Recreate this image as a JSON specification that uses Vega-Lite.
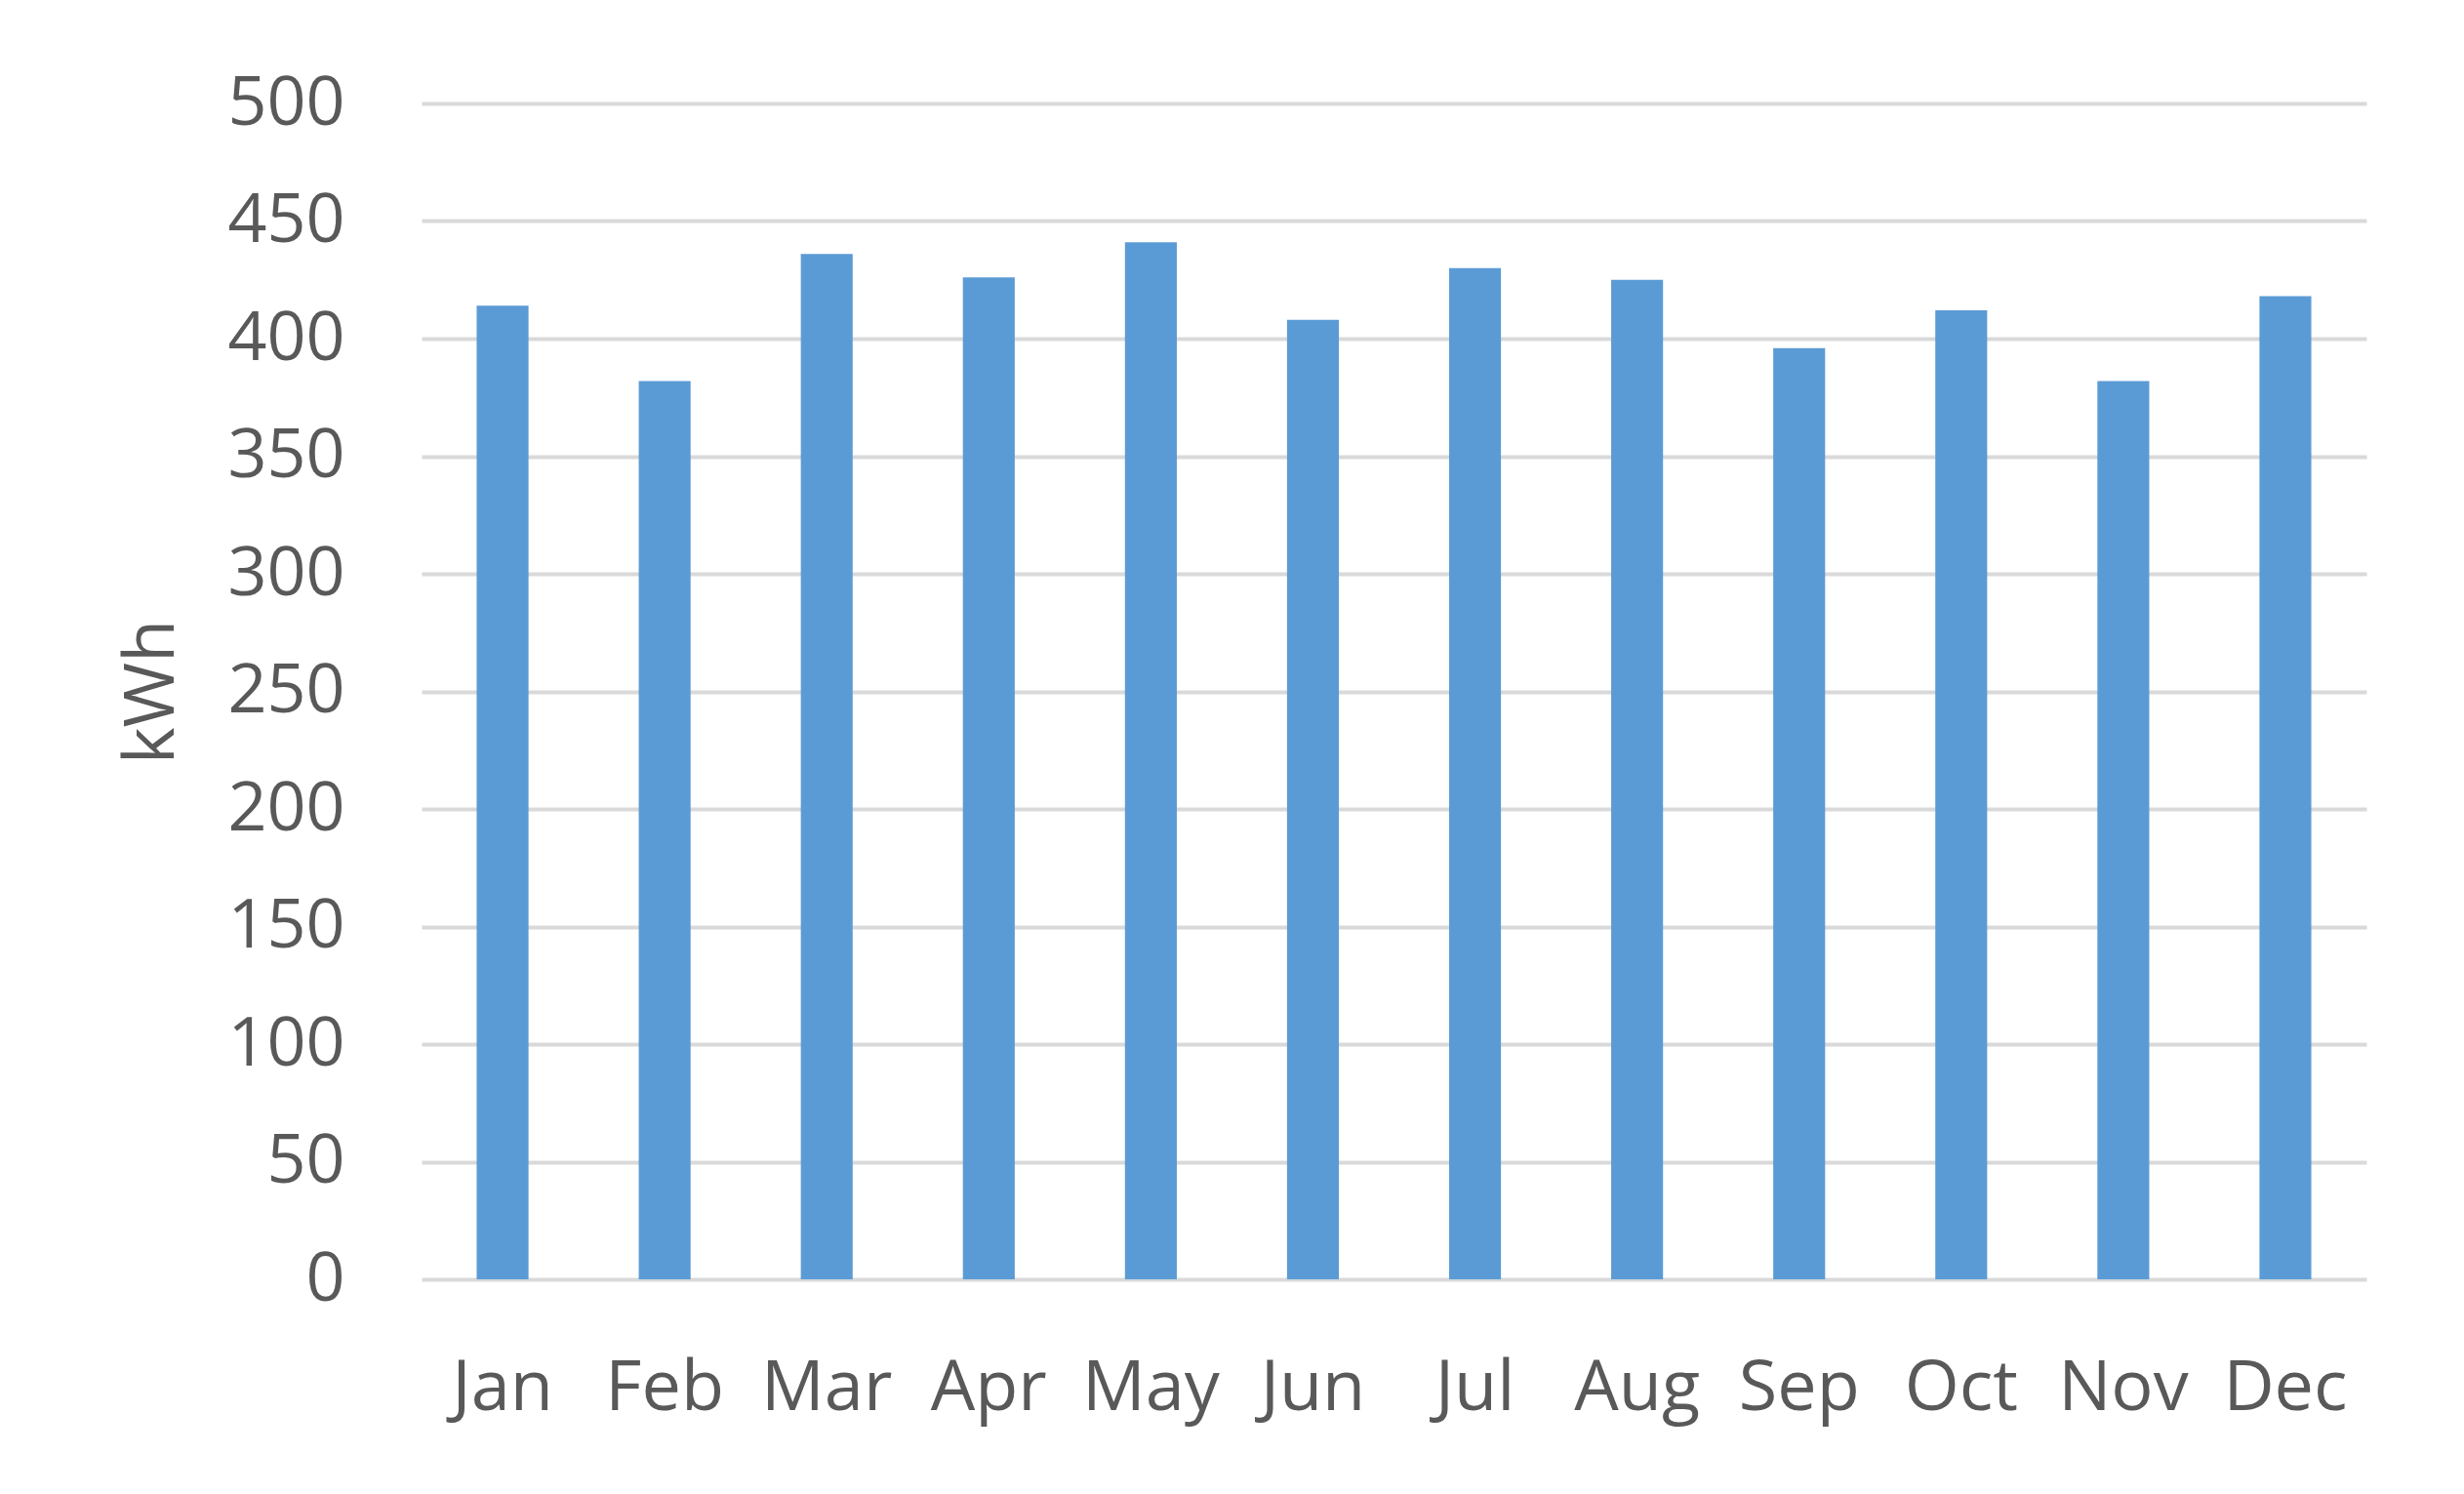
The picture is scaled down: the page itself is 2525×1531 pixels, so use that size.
{
  "$schema": "https://vega.github.io/schema/vega-lite/v6.json",
  "autosize": "none",
  "width": 1993,
  "height": 1205,
  "padding": {"left": 432, "top": 106, "right": 100, "bottom": 220},
  "background": "white",
  "config": {
    "view": {"stroke": null},
    "font": "Open Sans"
  },
  "data": {
    "values": [
      {"month": "Jan", "kwh": 414},
      {"month": "Feb", "kwh": 382},
      {"month": "Mar", "kwh": 436},
      {"month": "Apr", "kwh": 426},
      {"month": "May", "kwh": 441},
      {"month": "Jun", "kwh": 408},
      {"month": "Jul", "kwh": 430},
      {"month": "Aug", "kwh": 425},
      {"month": "Sep", "kwh": 396},
      {"month": "Oct", "kwh": 412},
      {"month": "Nov", "kwh": 382},
      {"month": "Dec", "kwh": 418}
    ]
  },
  "mark": {"type": "bar", "color": "#5b9bd5"},
  "encoding": {
    "x": {
      "field": "month",
      "type": "nominal",
      "sort": null,
      "scale": {"paddingInner": 0.68, "paddingOuter": 0.34},
      "axis": {
        "title": null,
        "labelAngle": 0,
        "labelFont": "Open Sans",
        "labelFontSize": 72,
        "labelColor": "#595959",
        "labelPadding": 76,
        "ticks": false,
        "domain": false,
        "grid": false
      }
    },
    "y": {
      "field": "kwh",
      "type": "quantitative",
      "scale": {"domain": [0, 500], "nice": false},
      "axis": {
        "title": "kWh",
        "titleFont": "Open Sans",
        "titleFontSize": 72,
        "titleFontWeight": "normal",
        "titleColor": "#595959",
        "titlePadding": 40,
        "values": [0, 50, 100, 150, 200, 250, 300, 350, 400, 450, 500],
        "labelFont": "Open Sans",
        "labelFontSize": 70,
        "labelColor": "#595959",
        "labelPadding": 79,
        "ticks": false,
        "domain": false,
        "grid": true,
        "gridColor": "#d9d9d9",
        "gridWidth": 4
      }
    }
  }
}
